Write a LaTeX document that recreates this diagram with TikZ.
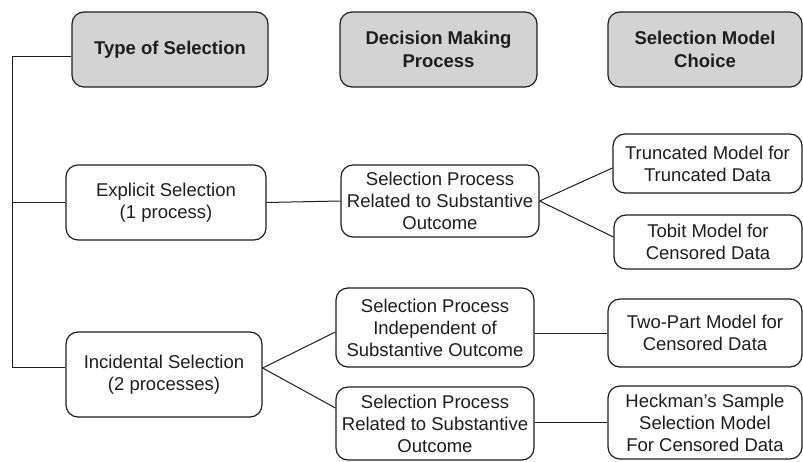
\documentclass[tikz,border=0pt]{standalone}
\usepackage{fontspec}
\setmainfont{Liberation Sans}
\usetikzlibrary{calc}
\definecolor{hdrfill}{RGB}{211,211,211}
\definecolor{ink}{RGB}{30,30,30}
\begin{document}
\begin{tikzpicture}[x=1pt,y=-1pt,
  box/.style={draw=ink,line width=1.2pt,rounded corners=12pt,fill=white,
    inner sep=0pt,align=center,text=ink,
    font=\fontsize{18.5}{22}\selectfont},
  hdr/.style={box,fill=hdrfill,font=\fontsize{18.5}{23}\selectfont\bfseries},
  link/.style={draw=ink,line width=1pt}]
\useasboundingbox (0,0) rectangle (803,462);

% column headers
\node[hdr,minimum width=196pt,minimum height=75pt] (type) at (170,49.5) {Type of Selection};
\node[hdr,minimum width=197pt,minimum height=75pt] (dec) at (438.5,49.5) {Decision Making\\Process};
\node[hdr,minimum width=194pt,minimum height=75pt] (smc) at (705,49.5) {Selection Model\\Choice};

% type of selection
\node[box,minimum width=200pt,minimum height=75pt] (expl) at (166,202.5) {Explicit Selection\\(1 process)};
\node[box,minimum width=196pt,minimum height=85pt] (incid) at (164,374.5) {Incidental Selection\\(2 processes)};

% decision making process
\node[box,minimum width=198pt,minimum height=72pt] (rel1) at (440,201) {Selection Process\\Related to Substantive\\Outcome};
\node[box,minimum width=198pt,minimum height=79pt] (indep) at (435,327.5) {Selection Process\\Independent of\\Substantive Outcome};
\node[box,minimum width=198pt,minimum height=73pt] (rel2) at (435,423.5) {Selection Process\\Related to Substantive\\Outcome};

% selection model choice
\node[box,minimum width=189pt,minimum height=59pt] (trunc) at (707.5,163.5) {Truncated Model for\\Truncated Data};
\node[box,minimum width=188pt,minimum height=54pt] (tobit) at (708,242) {Tobit Model for\\Censored Data};
\node[box,minimum width=194pt,minimum height=68pt] (twopart) at (705,333) {Two-Part Model for\\Censored Data};
\node[box,minimum width=194pt,minimum height=73pt] (heck) at (705,422.5) {Heckman’s Sample\\Selection Model\\For Censored Data};

% left bracket joining the types of selection
\coordinate (jtop) at (12,57);
\coordinate (jmid) at (12,202.5);
\coordinate (jbot) at (12,367);
\draw[link] (type.west |- jtop) -- (jtop) -- (jbot) -- (incid.west |- jbot);
\draw[link] (jmid) -- (expl.west);

% explicit selection branch
\draw[link] (expl.east) -- (rel1.west);
\draw[link] (rel1.east) -- (trunc.west |- 0,168);
\draw[link] (rel1.east) -- (tobit.west |- 0,237);

% incidental selection branch
\draw[link] (incid.east |- 0,368) -- (indep.west |- 0,332);
\draw[link] (incid.east |- 0,368) -- (rel2.west |- 0,408);
\draw[link] (indep.east |- 0,333) -- (twopart.west |- 0,333);
\draw[link] (rel2.east |- 0,422) -- (heck.west |- 0,422);
\end{tikzpicture}
\end{document}
